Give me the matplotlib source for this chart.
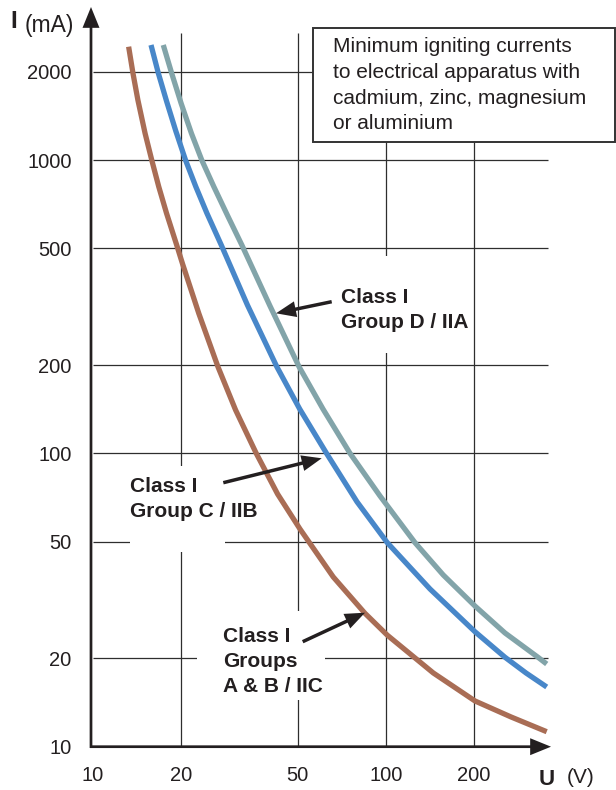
import matplotlib
matplotlib.use("Agg")
import matplotlib.pyplot as plt
import matplotlib.transforms as mtransforms
from matplotlib.patches import FancyArrowPatch, Rectangle
from matplotlib.ticker import NullLocator

plt.rcParams["font.family"] = ["Liberation Sans", "DejaVu Sans"]

# Minimum igniting currents (U in V, I in mA)
u_abiic = [13.28, 13.74, 14.28, 15.11, 15.92, 16.82, 17.88, 19.37, 20.29, 23.04, 26.77,
           30.75, 36.15, 42.76, 51.0, 66.2, 84.9, 101.2, 145.2, 201.4, 267.3, 353.7]
i_abiic = [2436, 1977, 1603, 1234, 1001, 812, 659, 513, 442, 300, 197.5,
           140.6, 100.1, 72.7, 55.2, 37.9, 28.5, 24.0, 17.84, 14.32, 12.63, 11.25]

u_ciib = [15.83, 16.77, 17.89, 19.23, 20.75, 22.5, 24.55, 27.49, 33.74, 42.5, 50.87,
          62.77, 79.75, 101.2, 141.5, 201.4, 254.9, 300.6, 353.7]
i_ciib = [2469, 1977, 1587, 1257, 1001, 812, 659, 513, 320.6, 197.5, 141.7,
          100.1, 68.4, 49.6, 34.49, 24.66, 20.18, 17.84, 15.98]

u_diia = [17.43, 18.62, 20.05, 21.74, 23.57, 25.92, 29.0, 32.31, 40.29, 50.6, 61.07,
          75.49, 95.55, 125.8, 157.0, 201.4, 254.9, 330.3, 353.7]
i_diia = [2469, 1977, 1562, 1234, 1001, 812, 641, 513, 318.1, 197.5, 141.7,
          100.1, 71.6, 49.6, 38.5, 30.17, 24.42, 20.18, 19.14]

u_ticks = [10, 20, 50, 100, 200]
i_ticks = [10, 20, 50, 100, 200, 500, 1000, 2000]

BROWN = "#a96d55"
BLUE = "#4887c9"
TEAL = "#82a4a9"
INK = "#231f20"
GRID = "#2e2e2e"

W, H = 616, 790
X0, Y0, DEC = 92.5, 746.7, 293.3   # pixel of (10, 10) and pixels per decade


def main():
    fig = plt.figure(figsize=(W / 100, H / 100), dpi=100)
    ax = fig.add_axes([X0 / W, 1 - Y0 / H, 1 - X0 / W, Y0 / H])
    ax.set_xscale("log")
    ax.set_yscale("log")
    ax.set_xlim(10, 10 ** (1 + (W - X0) / DEC))
    ax.set_ylim(10, 10 ** (1 + Y0 / DEC))
    for s in ax.spines.values():
        s.set_visible(False)

    # pixel coords (origin top-left) for the hand placed decorations
    px = mtransforms.Affine2D().scale(1 / W, -1 / H).translate(0, 1) + fig.transFigure

    # ticks
    ax.set_xticks(u_ticks, labels=[str(v) for v in u_ticks])
    ax.set_yticks(i_ticks, labels=[str(v) for v in i_ticks])
    ax.xaxis.set_minor_locator(NullLocator())
    ax.yaxis.set_minor_locator(NullLocator())
    ax.tick_params(axis="x", length=0, labelsize=14.5, colors=INK, pad=14)
    ax.tick_params(axis="y", length=0, labelsize=14.5, colors=INK, pad=15)

    # grid
    ax.vlines(u_ticks[1:], 10, 2710, color=GRID, lw=0.9, zorder=1)
    ax.hlines(i_ticks[1:], 10, 357, color=GRID, lw=0.9, zorder=1)

    # white gaps behind the labels
    for (x1, y1, x2, y2) in [(130, 466, 225, 552), (197, 611, 325, 700), (335, 256, 470, 353)]:
        ax.add_patch(Rectangle((x1, y1), x2 - x1, y2 - y1, transform=px,
                               facecolor="white", edgecolor="none", zorder=1.5, clip_on=False))

    # curves
    for u, i, c in [(u_abiic, i_abiic, BROWN), (u_ciib, i_ciib, BLUE), (u_diia, i_diia, TEAL)]:
        ax.plot(u, i, color=c, lw=3.8, zorder=2, solid_capstyle="butt", solid_joinstyle="round")

    # axis arrows
    axis_style = "simple,head_length=15,head_width=12.2,tail_width=1.95"
    for a, b in [((91, 748), (91, 7)), ((90, 746.7), (551, 746.7))]:
        ax.add_patch(FancyArrowPatch(a, b, transform=px, arrowstyle=axis_style,
                                     mutation_scale=1, shrinkA=0, shrinkB=0,
                                     color=INK, lw=0, zorder=3, clip_on=False))

    # axis titles
    ax.text(10, 28.3, "I", transform=px, fontsize=17.5, fontweight="bold", color=INK, va="baseline")
    ax.text(24.5, 32, "(mA)", transform=px, fontsize=16.5, color=INK, va="baseline")
    ax.text(539, 785, "U", transform=px, fontsize=16, fontweight="bold", color=INK, va="baseline")
    ax.text(566.5, 783, "(V)", transform=px, fontsize=15, color=INK, va="baseline")

    # note box
    ax.add_patch(Rectangle((313.3, 28.3), 301.5, 113.4, transform=px, facecolor="white",
                           edgecolor="#333333", lw=1.4, zorder=4, clip_on=False))
    note = ["Minimum igniting currents", "to electrical apparatus with",
            "cadmium, zinc, magnesium", "or aluminium"]
    for k, line in enumerate(note):
        ax.text(333.3, 52.3 + 25.7 * k, line, transform=px, fontsize=15, color=INK,
                va="baseline", zorder=5)

    # curve labels with arrows
    labels = [
        (341, 302.7, ["Class I", "Group D / IIA"], (331.7, 301.7), (276, 313.3)),
        (129.5, 492.3, ["Class I", "Group C / IIB"], (223.3, 482.7), (321.7, 458.3)),
        (223.3, 642.3, ["Class I", "Groups", "A & B / IIC"], (302.7, 641.7), (365, 612.7)),
    ]
    arrow_style = "simple,head_length=14.4,head_width=11.5,tail_width=2.5"
    for tx, ty, lines, tail, tip in labels:
        for k, line in enumerate(lines):
            ax.text(tx, ty + 25 * k, line, transform=px, fontsize=15, fontweight="bold",
                    color=INK, va="baseline", zorder=5)
        ax.add_patch(FancyArrowPatch(tail, tip, transform=px, arrowstyle=arrow_style,
                                     mutation_scale=1, shrinkA=0, shrinkB=0,
                                     color=INK, lw=0, zorder=5, clip_on=False))

    fig.savefig("out.png", dpi=100)
    plt.close(fig)


if __name__ == "__main__":
    main()
